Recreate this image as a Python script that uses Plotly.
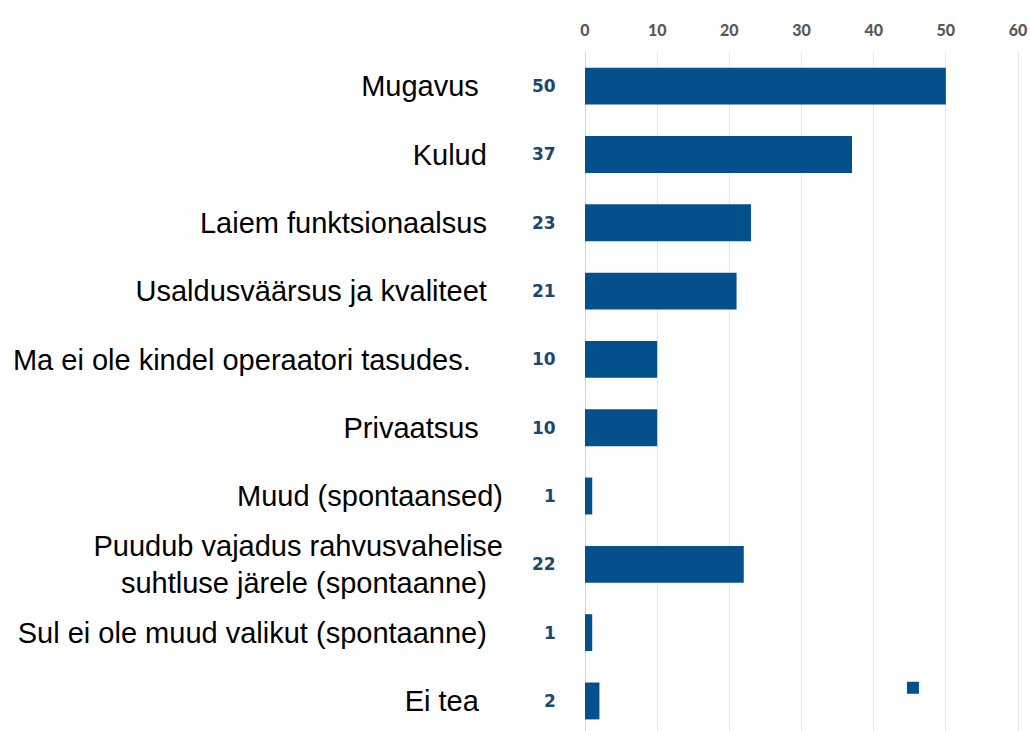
import plotly.graph_objects as go

categories = [
    "Mugavus",
    "Kulud",
    "Laiem funktsionaalsus",
    "Usaldusväärsus ja kvaliteet",
    "Ma ei ole kindel operaatori tasudes.",
    "Privaatsus",
    "Muud (spontaansed)",
    "Puudub vajadus rahvusvahelise<br>suhtluse järele (spontaanne)",
    "Sul ei ole muud valikut (spontaanne)",
    "Ei tea",
]
# trailing non-breaking spaces mimic the uneven label alignment of the original
label_padding = [3, 2, 2, 2, 4, 3, 0, 0, 2, 3]
values = [50, 37, 23, 21, 10, 10, 1, 22, 1, 2]
x_ticks = [0, 10, 20, 30, 40, 50, 60]

BAR = "#04508C"
VAL = "#1F4670"

ticktext = []
for c, p in zip(categories, label_padding):
    if "<br>" in c:
        a, b = c.split("<br>")
        ticktext.append(a + "<br>" + b + "\u00a0" * 2)
    else:
        ticktext.append(c + "\u00a0" * p)

idx = list(range(len(categories)))

fig = go.Figure()
fig.add_trace(go.Bar(
    x=values, y=idx, orientation="h",
    marker=dict(color=BAR, line=dict(width=0)),
    name="", showlegend=True, hoverinfo="x",
))

for i, v in zip(idx, values):
    fig.add_annotation(
        x=0, y=i, xref="x", yref="y", text=f"<b>{v}</b>",
        showarrow=False, xanchor="right", xshift=-27,
        font=dict(family="DejaVu Sans, sans-serif", size=17, color=VAL),
    )

fig.update_layout(
    width=1030, height=731,
    margin=dict(l=585, r=0, t=52, b=0, autoexpand=False),
    paper_bgcolor="white", plot_bgcolor="white",
    bargap=0.46,
    showlegend=True,
    legend=dict(x=0.692, xanchor="left", y=0.085, yanchor="top",
                bgcolor="white", font=dict(size=12), itemwidth=30),
    xaxis=dict(
        side="top", range=[0, 61.66], tickvals=x_ticks,
        showgrid=True, gridcolor="#e6e6e6", gridwidth=1,
        zeroline=True, zerolinecolor="#d9d4cc", zerolinewidth=1,
        showline=False, ticks="", ticklabelstandoff=12, automargin=False,
        tickfont=dict(family="Lato, Open Sans, sans-serif", size=16, color="#595959", weight=900),
    ),
    yaxis=dict(
        tickvals=idx, ticktext=ticktext, range=[9.44, -0.5],
        showgrid=False, zeroline=False, showline=False, ticks="",
        ticklabelstandoff=81, automargin=False,
        tickfont=dict(family="Liberation Sans, Arial, sans-serif", size=29, color="#000000"),
    ),
)

# remove the browser's default 8px body margin so the figure fills the window exactly
fig.write_html(
    "out.html",
    config={"displayModeBar": False},
    post_script="document.body.style.margin='0';document.body.style.overflow='hidden';",
)
